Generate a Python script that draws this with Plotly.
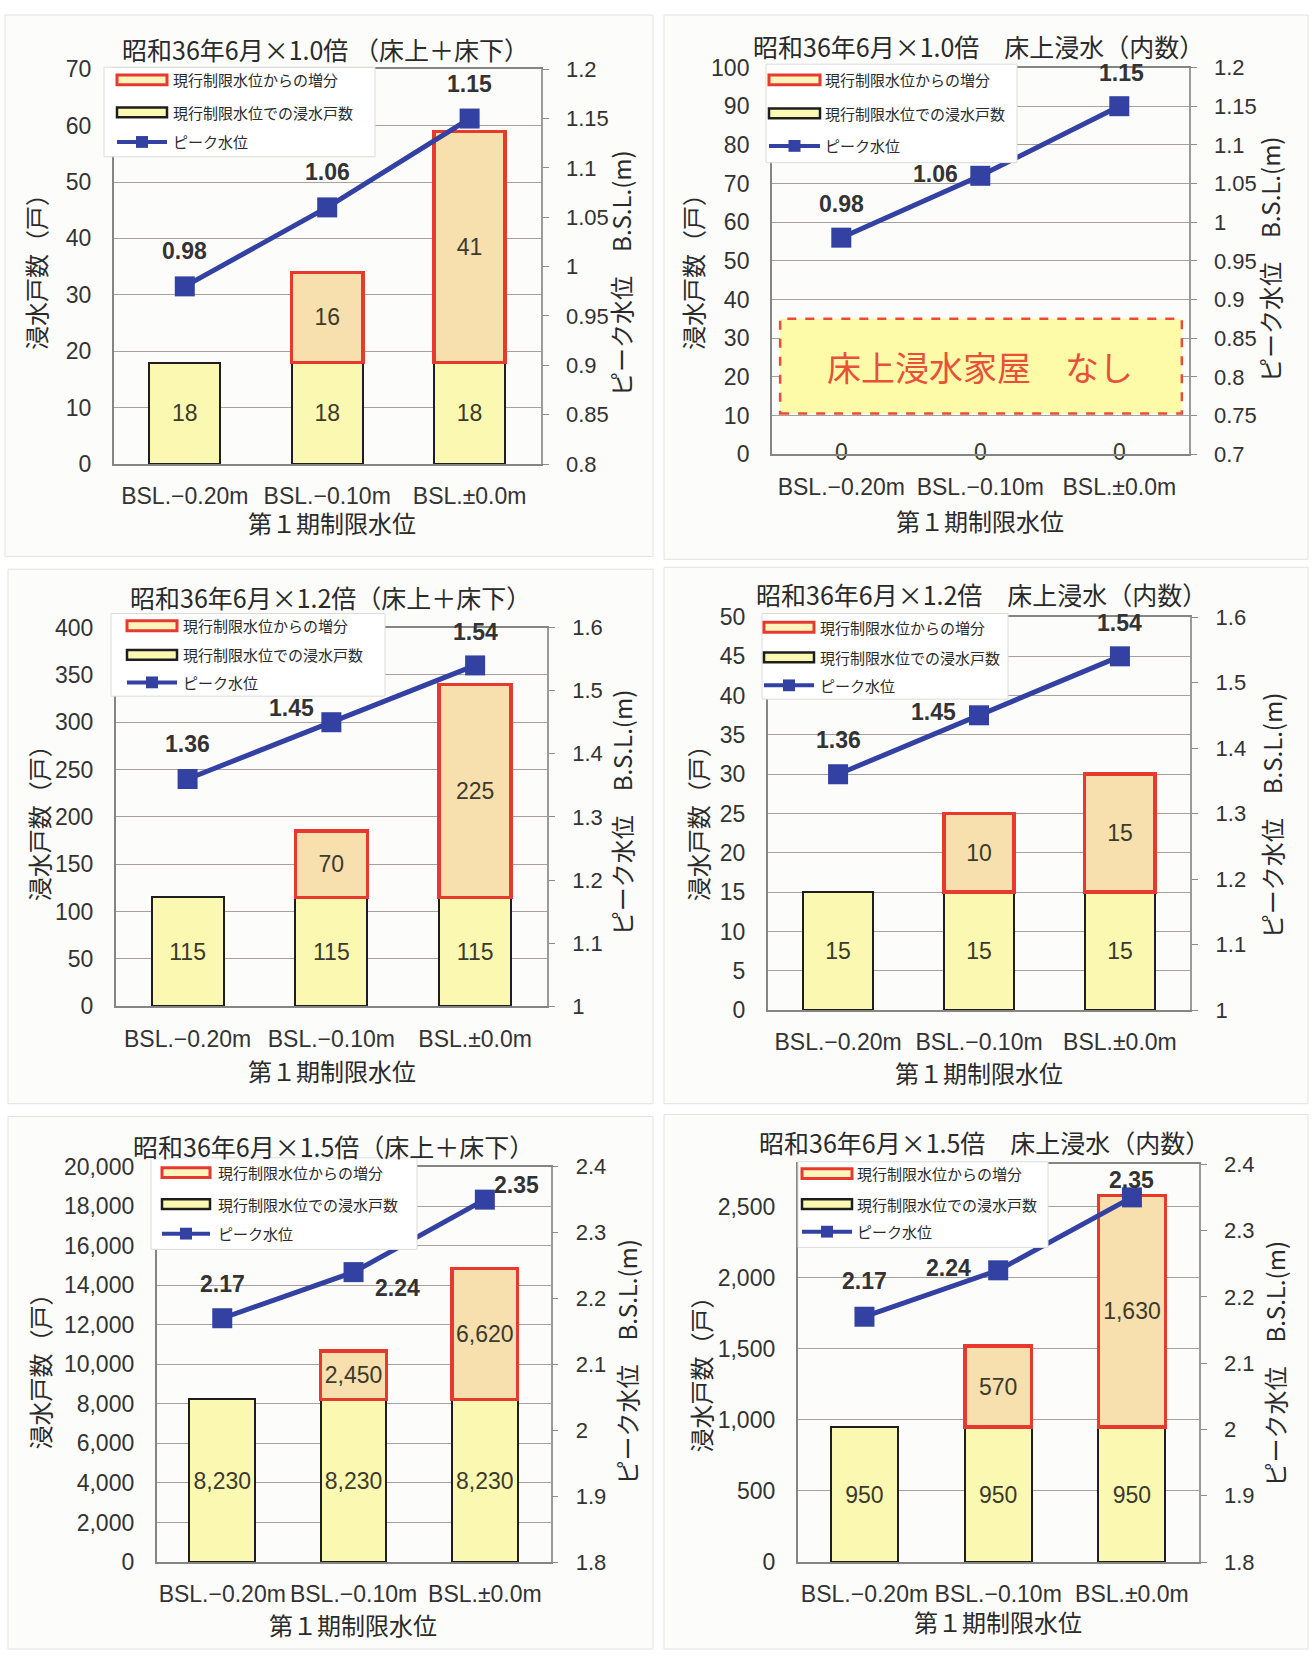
import plotly.graph_objects as go

W, H = 1314, 1665

# ---------------- data ----------------
categories = ["BSL.−0.20m", "BSL.−0.10m", "BSL.±0.0m"]

titles = [
    "昭和36年6月×1.0倍 （床上＋床下）",
    "昭和36年6月×1.0倍　床上浸水（内数）",
    "昭和36年6月×1.2倍（床上＋床下）",
    "昭和36年6月×1.2倍　床上浸水（内数）",
    "昭和36年6月×1.5倍（床上＋床下）",
    "昭和36年6月×1.5倍　床上浸水（内数）",
]

base_1 = [18, 18, 18]
inc_1 = [None, 16, 41]
peak_1 = [0.98, 1.06, 1.15]

base_2 = [0, 0, 0]
inc_2 = [None, None, None]
peak_2 = [0.98, 1.06, 1.15]

base_3 = [115, 115, 115]
inc_3 = [None, 70, 225]
peak_3 = [1.36, 1.45, 1.54]

base_4 = [15, 15, 15]
inc_4 = [None, 10, 15]
peak_4 = [1.36, 1.45, 1.54]

base_5 = [8230, 8230, 8230]
inc_5 = [None, 2450, 6620]
peak_5 = [2.17, 2.24, 2.35]

base_6 = [950, 950, 950]
inc_6 = [None, 570, 1630]
peak_6 = [2.17, 2.24, 2.35]

legend_labels = ["現行制限水位からの増分", "現行制限水位での浸水戸数", "ピーク水位"]
y_title = "浸水戸数（戸）"
y2_title = "ピーク水位　B.S.L.(m)"
x_title = "第１期制限水位"
no_flood_text = "床上浸水家屋　なし"

bases = [base_1, base_2, base_3, base_4, base_5, base_6]
incs = [inc_1, inc_2, inc_3, inc_4, inc_5, inc_6]
peaks = [peak_1, peak_2, peak_3, peak_4, peak_5, peak_6]

# ---------------- styles / layout ----------------
NUM = "Liberation Sans, Arial, Noto Sans CJK JP, sans-serif"
CJK = "Noto Sans CJK JP, Noto Sans CJK SC, sans-serif"
BASE_FILL = "#fbf8b2"
INC_FILL = "#f7dfae"
RED = "#e8392f"
BLUE = "#3341a3"
PLOT_BG = "#ede8df"
GRID = "#a6a19a"
TXT = "#333333"

# plot boxes in px (left, top, right, bottom)
plot_px = [
    (113.6, 57.1, 540.8, 458.2),
    (771.8, 55.4, 1188.8, 448.2),
    (115.7, 624.3, 547.0, 1009.0),
    (767.6, 613.6, 1190.4, 1012.9),
    (156.6, 1172.0, 550.5, 1573.6),
    (797.6, 1169.5, 1198.8, 1573.6),
]
left_axis = [(0, 70, 10), (0, 100, 10), (0, 400, 50), (0, 50, 5), (0, 20000, 2000), (0, 2800, 500)]
right_axis = [(0.8, 1.2, 0.05), (0.7, 1.2, 0.05), (1.0, 1.6, 0.1), (1.0, 1.6, 0.1), (1.8, 2.4, 0.1), (1.8, 2.4, 0.1)]
title_pos = [(325, 37), (978, 33.5), (330, 593.5), (981, 590.5), (333, 1151), (984, 1147)]
ytitle_pos = [(36, 257), (693, 257), (38, 817), (697, 817), (40, 1374), (700, 1377)]
y2title_pos = [(621, 264), (1269, 250), (621, 812), (1271, 815), (627, 1370), (1275, 1372)]
xtitle_pos = [(332, 518), (980, 516), (332, 1074), (979, 1076), (353, 1637), (998, 1634)]
legend_box = [
    (104, 55, 375, 146), (766, 52, 1017, 152), (111, 610, 385, 694),
    (762, 610, 1008, 697), (151, 1163, 417, 1256), (798, 1167, 1048, 1254),
]
legend_rows = [(68, 101, 131), (68, 102, 135), (622.5, 652, 680), (624, 654.6, 683), (1178, 1210, 1240), (1179, 1210, 1238)]
legend_sym = [(117, 167, 171), (769, 820, 823), (127, 177, 181), (764, 814, 818), (162, 210, 216), (802, 852, 855)]
label_shift = [
    [(0, 35), (0, 35), (0, 35)],
    [(0, 34), (-45, 2), (2, 33)],
    [(0, 35), (-40, 14), (0, 33)],
    [(0, 34), (-46, 3), (0, 33)],
    [(0, 34), (44, -16), (32, 15)],
    [(0, 36), (-50, 2), (0, 17)],
]
cards = [(5, 2, 653, 552), (664, 2, 1308, 555), (8, 565, 653, 1108),
         (664, 563, 1308, 1108), (8, 1121, 653, 1662), (664, 1119, 1308, 1662)]


def fx(p):
    return p / W


def fy(p):
    return 1 - p / H


fig = go.Figure()
layout = dict(
    width=W, height=H, margin=dict(l=0, r=0, t=0, b=0),
    paper_bgcolor="white", plot_bgcolor=PLOT_BG,
    barmode="stack", bargap=0.5, showlegend=False,
    font=dict(family=NUM, color=TXT),
)
shapes = []
annotations = []

for c in cards:
    shapes.append(dict(type="rect", xref="paper", yref="paper", layer="below",
                       x0=fx(c[0]), x1=fx(c[2]), y0=fy(c[3]), y1=fy(c[1]),
                       fillcolor="#fcfcfa", line=dict(color="#e2e2e2", width=1)))

for i in range(6):
    n = i + 1
    xa, ya, yr = f"x{n}", f"y{n}", f"y{n + 6}"
    base, inc, peak = bases[i], incs[i], peaks[i]
    l, t, r, b = plot_px[i]

    base_text = [f"{v:,}" if v else "" for v in base]
    inc_text = [f"{v:,}" if v else "" for v in inc]
    fig.add_trace(go.Bar(
        x=categories, y=base, xaxis=xa, yaxis=ya, name=legend_labels[1],
        marker=dict(color=BASE_FILL,
                    line=dict(color="#1e1e1e", width=[2 if v else 0 for v in base])),
        text=base_text, textposition="inside", insidetextanchor="middle",
        constraintext="none", textangle=0,
        textfont=dict(size=23, color="#3b3a2c", family=NUM)))
    fig.add_trace(go.Bar(
        x=categories, y=inc, xaxis=xa, yaxis=ya, name=legend_labels[0],
        marker=dict(color=INC_FILL, line=dict(color=RED, width=3.5)),
        text=inc_text, textposition="inside", insidetextanchor="middle",
        constraintext="none", textangle=0,
        textfont=dict(size=23, color="#3b3a2c", family=NUM)))
    if max(base) == 0:
        fig.add_trace(go.Scatter(
            x=categories, y=base, xaxis=xa, yaxis=ya, mode="text",
            text=[str(v) for v in base], textposition="middle center",
            textfont=dict(size=23, color="#3b3a2c", family=NUM), cliponaxis=False))
    fig.add_trace(go.Scatter(
        x=categories, y=peak, xaxis=xa, yaxis=yr, mode="lines+markers",
        name=legend_labels[2], cliponaxis=False,
        line=dict(color=BLUE, width=5),
        marker=dict(symbol="square", size=20, color=BLUE)))

    lo, hi, dt = left_axis[i]
    rlo, rhi, rdt = right_axis[i]
    layout[f"xaxis{n}"] = dict(
        domain=[fx(l), fx(r)], anchor=ya, type="category",
        showline=True, linecolor="#858585", linewidth=1.5, mirror=True,
        showgrid=False, ticks="", ticklabelstandoff=11,
        tickfont=dict(size=23, color=TXT, family=NUM), fixedrange=True)
    layout[f"yaxis{n}"] = dict(
        domain=[fy(b), fy(t)], anchor=xa, range=[lo, hi], dtick=dt, tick0=0,
        tickformat=",d", showgrid=True, gridcolor=GRID, gridwidth=1.3,
        showline=True, linecolor="#858585", linewidth=1.5, zeroline=False,
        ticks="", ticklabelstandoff=16,
        tickfont=dict(size=23, color=TXT, family=NUM), fixedrange=True)
    layout[f"yaxis{n + 6}"] = dict(
        overlaying=ya, side="right", anchor=xa, range=[rlo, rhi], dtick=rdt,
        tick0=rlo, showgrid=False, zeroline=False,
        showline=True, linecolor="#9a9a9a", linewidth=1.5,
        ticks="outside", ticklen=6, tickcolor="#8a8a8a", ticklabelstandoff=13,
        tickfont=dict(size=22, color=TXT, family=NUM), fixedrange=True)

    # peak labels
    for j, v in enumerate(peak):
        dx, dy = label_shift[i][j]
        annotations.append(dict(
            xref=xa, yref=yr, x=categories[j], y=v, text=f"<b>{v:.2f}</b>",
            showarrow=False, xshift=dx, yshift=dy,
            font=dict(size=23, color="#333333", family=NUM)))

    # titles
    tx, ty = title_pos[i]
    annotations.append(dict(xref="paper", yref="paper", x=fx(tx), y=fy(ty), text=titles[i],
                            showarrow=False, xanchor="center", yanchor="middle",
                            font=dict(size=25, color="#2a2a2a", family=CJK)))
    ax_, ay_ = ytitle_pos[i]
    annotations.append(dict(xref="paper", yref="paper", x=fx(ax_), y=fy(ay_), text=y_title,
                            showarrow=False, textangle=-90, xanchor="center", yanchor="middle",
                            font=dict(size=24, color="#2a2a2a", family=CJK)))
    ax_, ay_ = y2title_pos[i]
    annotations.append(dict(xref="paper", yref="paper", x=fx(ax_), y=fy(ay_), text=y2_title,
                            showarrow=False, textangle=-90, xanchor="center", yanchor="middle",
                            font=dict(size=24, color="#2a2a2a", family=CJK)))
    ax_, ay_ = xtitle_pos[i]
    annotations.append(dict(xref="paper", yref="paper", x=fx(ax_), y=fy(ay_), text=x_title,
                            showarrow=False, xanchor="center", yanchor="middle",
                            font=dict(size=24, color="#2a2a2a", family=CJK)))

    # manual legend
    bx0, by0, bx1, by1 = legend_box[i]
    shapes.append(dict(type="rect", xref="paper", yref="paper", layer="above",
                       x0=fx(bx0), x1=fx(bx1), y0=fy(by1), y1=fy(by0),
                       fillcolor="white", line=dict(color="#dcdcdc", width=1)))
    sx0, sx1, txx = legend_sym[i]
    r1, r2, r3 = legend_rows[i]
    shapes.append(dict(type="rect", xref="paper", yref="paper", layer="above",
                       x0=fx(sx0), x1=fx(sx1), y0=fy(r1 + 5), y1=fy(r1 - 5),
                       fillcolor="#fdf6bc", line=dict(color=RED, width=3)))
    shapes.append(dict(type="rect", xref="paper", yref="paper", layer="above",
                       x0=fx(sx0), x1=fx(sx1), y0=fy(r2 + 5), y1=fy(r2 - 5),
                       fillcolor=BASE_FILL, line=dict(color="#1e1e1e", width=2.5)))
    shapes.append(dict(type="line", xref="paper", yref="paper", layer="above",
                       x0=fx(sx0), x1=fx(sx1), y0=fy(r3), y1=fy(r3),
                       line=dict(color=BLUE, width=4)))
    mx = (sx0 + sx1) / 2
    shapes.append(dict(type="rect", xref="paper", yref="paper", layer="above",
                       x0=fx(mx - 6), x1=fx(mx + 6), y0=fy(r3 + 6), y1=fy(r3 - 6),
                       fillcolor=BLUE, line=dict(color=BLUE, width=0)))
    for k, ry in enumerate((r1, r2, r3)):
        annotations.append(dict(xref="paper", yref="paper", x=fx(txx), y=fy(ry),
                                text=legend_labels[k], showarrow=False,
                                xanchor="left", yanchor="middle",
                                font=dict(size=15, color="#2a2a2a", family=CJK)))

# "no flood" box in panel 2 (drawn in data coordinates, above the gridlines)
shapes.append(dict(type="rect", xref="x2", yref="y2", layer="between",
                   x0=-0.44, x1=2.45, y0=10.5, y1=35,
                   fillcolor="#fdfaa8", line=dict(color="#ee4a3a", width=2.5, dash="dash")))
annotations.append(dict(xref="x2", yref="y2", x=1, y=22.7, text=no_flood_text,
                        showarrow=False, font=dict(size=34, color="#e8503a", family=CJK)))

layout["shapes"] = shapes
layout["annotations"] = annotations
fig.update_layout(**layout)
fig.write_html("out.html")
